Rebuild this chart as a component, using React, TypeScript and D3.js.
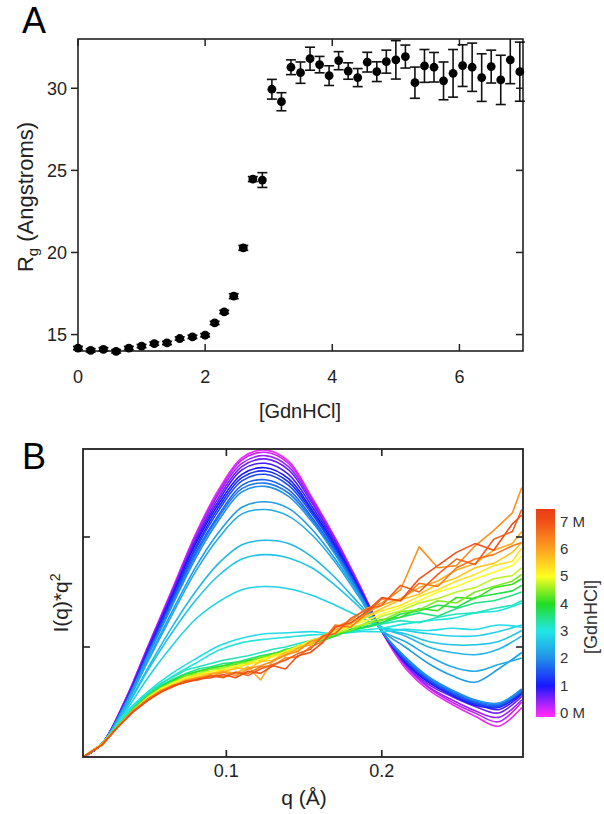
import React from "react";
import * as d3 from "d3";

// ---------- Panel A data ----------
const gdnConc = [0, 0.2, 0.4, 0.6, 0.8, 1.0, 1.2, 1.4, 1.6, 1.8, 2.0, 2.15, 2.3, 2.45, 2.6, 2.75, 2.9, 3.05, 3.2, 3.35, 3.5, 3.65, 3.8, 3.95, 4.1, 4.25, 4.4, 4.55, 4.7, 4.85, 5.0, 5.15, 5.3, 5.45, 5.6, 5.75, 5.9, 6.05, 6.2, 6.35, 6.5, 6.65, 6.8, 6.95];
const rgValues = [14.18, 14.04, 14.1, 13.98, 14.18, 14.3, 14.45, 14.49, 14.76, 14.86, 14.96, 15.71, 16.38, 17.34, 20.28, 24.47, 24.41, 29.94, 29.18, 31.28, 30.95, 31.8, 31.44, 30.77, 31.68, 31.05, 30.65, 31.59, 31.01, 31.62, 31.73, 31.93, 30.34, 31.36, 31.28, 30.45, 30.91, 31.38, 31.28, 30.65, 31.32, 30.51, 31.73, 31.01];
const rgErrors = [0.1, 0.1, 0.1, 0.1, 0.1, 0.1, 0.1, 0.1, 0.1, 0.1, 0.1, 0.1, 0.1, 0.15, 0.15, 0.15, 0.45, 0.6, 0.55, 0.45, 0.65, 0.7, 0.5, 0.6, 0.55, 0.5, 0.55, 0.6, 0.6, 0.7, 1.17, 0.7, 0.95, 1.0, 0.9, 1.15, 1.45, 1.27, 1.47, 1.45, 1.0, 1.5, 1.45, 1.8];
const aXTicks = [0, 2, 4, 6];
const aYTicks = [15, 20, 25, 30];

// ---------- Panel B data: folded / intermediate curves ----------
const qGrid = [0.008, 0.02, 0.035, 0.05, 0.065, 0.08, 0.095, 0.11, 0.125, 0.14, 0.155, 0.17, 0.185, 0.2, 0.215, 0.23, 0.245, 0.26, 0.275, 0.29];
const foldedConc = [0, 0.2, 0.4, 0.6, 0.8, 1.0, 1.2, 1.4, 1.6, 1.8, 2.0, 2.15, 2.3, 2.45, 2.6, 2.75, 2.9, 3.05];
const foldedCurves = [
  [0, 0.12, 0.52, 1.02, 1.52, 2.02, 2.43, 2.72, 2.79, 2.69, 2.36, 1.99, 1.58, 1.14, 0.81, 0.61, 0.48, 0.37, 0.28, 0.45],
  [0, 0.12, 0.52, 1.02, 1.51, 2.01, 2.41, 2.70, 2.77, 2.67, 2.35, 1.99, 1.58, 1.15, 0.83, 0.63, 0.50, 0.40, 0.32, 0.50],
  [0, 0.12, 0.51, 1.01, 1.50, 1.99, 2.39, 2.67, 2.74, 2.64, 2.33, 1.97, 1.57, 1.15, 0.84, 0.64, 0.52, 0.42, 0.36, 0.52],
  [0, 0.12, 0.51, 1.00, 1.49, 1.97, 2.36, 2.64, 2.71, 2.61, 2.31, 1.96, 1.56, 1.15, 0.85, 0.66, 0.55, 0.46, 0.40, 0.55],
  [0, 0.12, 0.50, 0.99, 1.47, 1.95, 2.33, 2.61, 2.67, 2.57, 2.28, 1.94, 1.55, 1.15, 0.87, 0.68, 0.57, 0.49, 0.43, 0.57],
  [0, 0.12, 0.50, 0.98, 1.46, 1.93, 2.30, 2.57, 2.63, 2.53, 2.25, 1.92, 1.54, 1.14, 0.86, 0.68, 0.56, 0.47, 0.45, 0.58],
  [0, 0.12, 0.50, 0.97, 1.44, 1.90, 2.27, 2.54, 2.60, 2.50, 2.23, 1.90, 1.53, 1.14, 0.87, 0.69, 0.57, 0.48, 0.46, 0.59],
  [0, 0.12, 0.49, 0.96, 1.42, 1.88, 2.24, 2.51, 2.57, 2.47, 2.21, 1.89, 1.52, 1.14, 0.88, 0.70, 0.58, 0.49, 0.46, 0.60],
  [0, 0.12, 0.49, 0.95, 1.40, 1.85, 2.20, 2.47, 2.52, 2.43, 2.18, 1.87, 1.51, 1.14, 0.89, 0.71, 0.59, 0.50, 0.47, 0.61],
  [0, 0.12, 0.48, 0.94, 1.39, 1.83, 2.18, 2.44, 2.49, 2.40, 2.16, 1.86, 1.50, 1.14, 0.90, 0.72, 0.60, 0.51, 0.48, 0.60],
  [0, 0.12, 0.48, 0.93, 1.37, 1.80, 2.15, 2.41, 2.46, 2.37, 2.14, 1.84, 1.49, 1.14, 0.91, 0.73, 0.61, 0.52, 0.49, 0.62],
  [0, 0.12, 0.47, 0.90, 1.32, 1.72, 2.04, 2.27, 2.32, 2.26, 2.07, 1.80, 1.48, 1.15, 1.00, 0.85, 0.74, 0.68, 0.80, 0.95],
  [0, 0.12, 0.46, 0.88, 1.29, 1.68, 1.99, 2.21, 2.25, 2.19, 2.02, 1.77, 1.46, 1.15, 1.05, 0.92, 0.82, 0.78, 0.84, 0.90],
  [0, 0.12, 0.44, 0.82, 1.18, 1.50, 1.76, 1.93, 1.97, 1.94, 1.82, 1.63, 1.40, 1.18, 1.10, 1.00, 0.95, 0.93, 0.98, 1.10],
  [0, 0.12, 0.43, 0.80, 1.13, 1.42, 1.65, 1.80, 1.84, 1.81, 1.72, 1.56, 1.37, 1.17, 1.12, 1.05, 1.02, 1.02, 1.05, 1.15],
  [0, 0.12, 0.41, 0.73, 1.01, 1.25, 1.41, 1.52, 1.55, 1.53, 1.47, 1.38, 1.28, 1.18, 1.15, 1.12, 1.10, 1.10, 1.14, 1.20],
  [0, 0.12, 0.40, 0.60, 0.76, 0.89, 1.01, 1.08, 1.12, 1.13, 1.14, 1.12, 1.14, 1.14, 1.16, 1.15, 1.17, 1.16, 1.20, 1.18],
  [0, 0.12, 0.39, 0.58, 0.73, 0.85, 0.97, 1.04, 1.07, 1.09, 1.11, 1.12, 1.15, 1.17, 1.21, 1.24, 1.26, 1.31, 1.33, 1.40],
];

// ---------- Panel B data: unfolded curves (finer, noisy grid) ----------
const qGridDen = [0.008, 0.02, 0.03, 0.04, 0.05, 0.058, 0.066, 0.074, 0.082, 0.09, 0.098, 0.106, 0.114, 0.122, 0.13, 0.138, 0.146, 0.154, 0.162, 0.17, 0.18, 0.19, 0.2, 0.212, 0.224, 0.236, 0.248, 0.26, 0.272, 0.284, 0.29];
const unfoldedConc = [3.2, 3.5, 3.8, 4.1, 4.4, 4.7, 5.0, 5.3, 5.6, 5.9, 6.2, 6.5, 6.8, 7.0];
const unfoldedCurves = [
  [0, 0.12, 0.29, 0.45, 0.59, 0.67, 0.73, 0.79, 0.82, 0.85, 0.88, 0.90, 0.92, 0.95, 0.98, 1.00, 1.03, 1.06, 1.09, 1.12, 1.15, 1.18, 1.21, 1.24, 1.22, 1.27, 1.30, 1.31, 1.35, 1.38, 1.42],
  [0, 0.12, 0.28, 0.44, 0.57, 0.65, 0.71, 0.76, 0.80, 0.82, 0.85, 0.86, 0.89, 0.92, 0.94, 0.97, 1.01, 1.03, 1.07, 1.12, 1.14, 1.19, 1.22, 1.27, 1.31, 1.28, 1.35, 1.40, 1.42, 1.47, 1.50],
  [0, 0.12, 0.28, 0.43, 0.56, 0.64, 0.70, 0.75, 0.78, 0.81, 0.83, 0.86, 0.87, 0.91, 0.93, 0.98, 0.99, 1.04, 1.06, 1.10, 1.16, 1.18, 1.22, 1.30, 1.33, 1.38, 1.36, 1.45, 1.48, 1.51, 1.56],
  [0, 0.12, 0.28, 0.43, 0.56, 0.63, 0.69, 0.74, 0.78, 0.80, 0.83, 0.84, 0.88, 0.90, 0.94, 0.96, 1.01, 1.02, 1.08, 1.10, 1.16, 1.21, 1.25, 1.27, 1.35, 1.33, 1.45, 1.44, 1.54, 1.57, 1.62],
  [0, 0.12, 0.28, 0.43, 0.55, 0.63, 0.68, 0.74, 0.76, 0.80, 0.81, 0.85, 0.86, 0.91, 0.92, 0.97, 1.00, 1.05, 1.07, 1.13, 1.15, 1.22, 1.24, 1.32, 1.34, 1.42, 1.40, 1.50, 1.55, 1.60, 1.66],
  [0, 0.12, 0.27, 0.42, 0.55, 0.62, 0.68, 0.72, 0.76, 0.78, 0.81, 0.82, 0.86, 0.88, 0.93, 0.95, 1.01, 1.03, 1.09, 1.12, 1.18, 1.21, 1.28, 1.33, 1.40, 1.44, 1.50, 1.54, 1.62, 1.65, 1.72],
  [0, 0.12, 0.27, 0.42, 0.54, 0.62, 0.67, 0.72, 0.74, 0.78, 0.79, 0.83, 0.84, 0.89, 0.91, 0.96, 1.00, 1.06, 1.08, 1.14, 1.20, 1.24, 1.30, 1.36, 1.42, 1.50, 1.55, 1.62, 1.68, 1.74, 1.83],
  [0, 0.12, 0.27, 0.42, 0.54, 0.61, 0.66, 0.71, 0.75, 0.76, 0.79, 0.80, 0.85, 0.86, 0.92, 0.94, 1.01, 1.03, 1.10, 1.15, 1.19, 1.27, 1.33, 1.38, 1.46, 1.52, 1.60, 1.66, 1.74, 1.78, 1.90],
  [0, 0.11, 0.27, 0.42, 0.53, 0.61, 0.66, 0.70, 0.73, 0.76, 0.77, 0.81, 0.80, 0.87, 0.88, 0.95, 0.97, 1.05, 1.09, 1.13, 1.22, 1.28, 1.35, 1.43, 1.48, 1.57, 1.63, 1.72, 1.76, 1.86, 1.95],
  [0, 0.11, 0.27, 0.42, 0.53, 0.60, 0.65, 0.70, 0.72, 0.75, 0.78, 0.76, 0.82, 0.70, 0.88, 0.92, 0.99, 1.02, 1.10, 1.16, 1.21, 1.31, 1.38, 1.44, 1.54, 1.60, 1.70, 1.76, 1.88, 1.94, 2.05],
  [0, 0.11, 0.27, 0.42, 0.53, 0.60, 0.64, 0.69, 0.72, 0.73, 0.77, 0.74, 0.80, 0.83, 0.87, 0.93, 0.96, 1.05, 1.08, 1.18, 1.24, 1.35, 1.40, 1.52, 1.91, 1.72, 1.74, 1.92, 2.06, 2.22, 2.45],
  [0, 0.11, 0.27, 0.42, 0.53, 0.60, 0.65, 0.68, 0.71, 0.74, 0.73, 0.77, 0.76, 0.82, 0.83, 0.90, 0.91, 1.00, 1.05, 1.20, 1.18, 1.30, 1.44, 1.42, 1.58, 1.55, 1.72, 1.80, 1.84, 1.92, 1.95],
  [0, 0.11, 0.27, 0.41, 0.52, 0.59, 0.64, 0.69, 0.70, 0.74, 0.72, 0.77, 0.74, 0.80, 0.84, 0.88, 0.94, 0.98, 1.10, 1.12, 1.26, 1.34, 1.38, 1.56, 1.50, 1.66, 1.80, 1.75, 1.98, 2.05, 2.25],
  [0, 0.11, 0.27, 0.41, 0.52, 0.59, 0.65, 0.68, 0.71, 0.72, 0.75, 0.72, 0.78, 0.76, 0.83, 0.80, 0.92, 0.95, 1.04, 1.18, 1.22, 1.32, 1.45, 1.42, 1.62, 1.74, 1.86, 1.94, 1.88, 2.12, 2.20],
];

const bXTicks = [0.1, 0.2];
const bYTicks = [1, 2];
const cbTicks = [0, 1, 2, 3, 4, 5, 6, 7];
const cbStops = [-0.2, 0, 1, 2, 3, 4, 5, 6, 7, 7.5];
const cbColors = ["#ff30ff", "#f028f8", "#1818ff", "#2090e8", "#22e6e6", "#22dd22", "#ffff22", "#ffa020", "#f05018", "#e83c14"];

const FONT = "'Liberation Sans', Arial, Helvetica, sans-serif";

export default function App() {
  const xA = d3.scaleLinear().domain([0, 7]).range([78, 523]);
  const yA = d3.scaleLinear().domain([14, 33]).range([351, 39]);
  const xB = d3.scaleLinear().domain([0.0078, 0.2908]).range([83, 523]);
  const yB = d3.scaleLinear().domain([0, 2.8]).range([757, 449]);
  const color = d3.scaleLinear<string>().domain(cbStops).range(cbColors).interpolate(d3.interpolateRgb);
  const cbY = d3.scaleLinear().domain([0, 7]).range([713, 521.7]);
  const cbTop = 509, cbBot = 717;

  const tickLen = 7;
  const frameStroke = "#222";

  const smoothLine = d3
    .line<number>()
    .x((_, j) => xB(qGrid[j]))
    .y((v) => yB(v))
    .curve(d3.curveCatmullRom);
  const noisyLine = d3
    .line<number>()
    .x((_, j) => xB(qGridDen[j]))
    .y((v) => yB(v))
    .curve(d3.curveLinear);

  return (
    <svg width={604} height={814} style={{ position: "absolute", left: 0, top: 0, background: "#fff" }} fontFamily={FONT}>
      <defs>
        <clipPath id="clipA"><rect x={xA(0) - 6} y={yA(33)} width={xA(7) - xA(0) + 12} height={yA(14) - yA(33) + 6} /></clipPath>
        <clipPath id="clipB"><rect x={xB.range()[0]} y={yB(2.8)} width={xB.range()[1] - xB.range()[0]} height={yB(0) - yB(2.8)} /></clipPath>
        <linearGradient id="cbGrad" x1="0" y1="1" x2="0" y2="0">
          {cbStops.map((s, i) => {
            const off = (cbY(s) - cbBot) / (cbTop - cbBot);
            return <stop key={i} offset={Math.max(0, Math.min(1, off))} stopColor={cbColors[i]} />;
          })}
        </linearGradient>
      </defs>

      {/* ================= Panel A ================= */}
      <text x={22} y={33} fontSize={36} fill="#000">A</text>
      <rect x={xA(0)} y={yA(33)} width={xA(7) - xA(0)} height={yA(14) - yA(33)} fill="none" stroke={frameStroke} strokeWidth={1.6} />
      {aXTicks.map((t) => (
        <g key={"ax" + t}>
          <line x1={xA(t)} x2={xA(t)} y1={yA(14)} y2={yA(14) - tickLen} stroke={frameStroke} strokeWidth={1.5} />
          <line x1={xA(t)} x2={xA(t)} y1={yA(33)} y2={yA(33) + tickLen} stroke={frameStroke} strokeWidth={1.5} />
          <text x={xA(t)} y={383} fontSize={18} textAnchor="middle" fill="#222">{t}</text>
        </g>
      ))}
      {aYTicks.map((t) => (
        <g key={"ay" + t}>
          <line x1={xA(0) - tickLen} x2={xA(0)} y1={yA(t)} y2={yA(t)} stroke={frameStroke} strokeWidth={1.5} />
          <line x1={xA(7) - tickLen} x2={xA(7)} y1={yA(t)} y2={yA(t)} stroke={frameStroke} strokeWidth={1.5} />
          <text x={67} y={yA(t) + 6.5} fontSize={18} textAnchor="end" fill="#222">{t}</text>
        </g>
      ))}
      <text x={300} y={418} fontSize={20} textAnchor="middle" fill="#222">[GdnHCl]</text>
      <text transform={`translate(33,197) rotate(-90)`} fontSize={22} textAnchor="middle" fill="#222">
        R<tspan fontSize={15} dy={5}>g</tspan><tspan dy={-5}> (Angstroms)</tspan>
      </text>
      <g clipPath="url(#clipA)">
        {gdnConc.map((c, i) => {
          const x = xA(c), y = yA(rgValues[i]);
          const y1 = yA(rgValues[i] + rgErrors[i]), y2 = yA(rgValues[i] - rgErrors[i]);
          return (
            <g key={"pt" + i}>
              <line x1={x} x2={x} y1={y1} y2={y2} stroke="#111" strokeWidth={1.6} />
              <line x1={x - 5} x2={x + 5} y1={y1} y2={y1} stroke="#111" strokeWidth={1.6} />
              <line x1={x - 5} x2={x + 5} y1={y2} y2={y2} stroke="#111" strokeWidth={1.6} />
              <circle cx={x} cy={y} r={4.4} fill="#000" />
            </g>
          );
        })}
      </g>

      {/* ================= Panel B ================= */}
      <text x={22} y={469} fontSize={36} fill="#000">B</text>
      <g clipPath="url(#clipB)">
        {foldedCurves.map((vals, i) => (
          <path key={"f" + i} d={smoothLine(vals) || ""} fill="none" stroke={color(foldedConc[i])} strokeWidth={1.6} strokeLinejoin="round" />
        ))}
        {unfoldedCurves.map((vals, i) => (
          <path key={"u" + i} d={noisyLine(vals) || ""} fill="none" stroke={color(unfoldedConc[i])} strokeWidth={1.6} strokeLinejoin="round" />
        ))}
      </g>
      <rect x={xB.range()[0]} y={yB(2.8)} width={xB.range()[1] - xB.range()[0]} height={yB(0) - yB(2.8)} fill="none" stroke={frameStroke} strokeWidth={1.8} />
      {bXTicks.map((t) => (
        <g key={"bx" + t}>
          <line x1={xB(t)} x2={xB(t)} y1={yB(0)} y2={yB(0) - tickLen} stroke={frameStroke} strokeWidth={1.6} />
          <line x1={xB(t)} x2={xB(t)} y1={yB(2.8)} y2={yB(2.8) + tickLen} stroke={frameStroke} strokeWidth={1.6} />
          <text x={xB(t)} y={777} fontSize={18} textAnchor="middle" fill="#222">{t}</text>
        </g>
      ))}
      {bYTicks.map((t) => (
        <g key={"by" + t}>
          <line x1={xB.range()[0]} x2={xB.range()[0] + tickLen} y1={yB(t)} y2={yB(t)} stroke={frameStroke} strokeWidth={1.6} />
          <line x1={xB.range()[1] - tickLen} x2={xB.range()[1]} y1={yB(t)} y2={yB(t)} stroke={frameStroke} strokeWidth={1.6} />
        </g>
      ))}
      <text x={304} y={805} fontSize={21} textAnchor="middle" fill="#222">q (Å)</text>
      <text transform={`translate(68,603) rotate(-90)`} fontSize={21} textAnchor="middle" fill="#222">
        I(q)*q<tspan fontSize={14} dy={-8}>2</tspan>
      </text>

      {/* Colorbar */}
      <rect x={536} y={cbTop} width={19} height={cbBot - cbTop} fill="url(#cbGrad)" />
      {cbTicks.map((t) => (
        <text key={"cb" + t} x={560} y={cbY(t) + 5} fontSize={15} fill="#333">
          {t === 0 || t === 7 ? `${t} M` : t}
        </text>
      ))}
      <text transform={`translate(597,617) rotate(-90)`} fontSize={18} textAnchor="middle" fill="#333">[GdnHCl]</text>
    </svg>
  );
}
